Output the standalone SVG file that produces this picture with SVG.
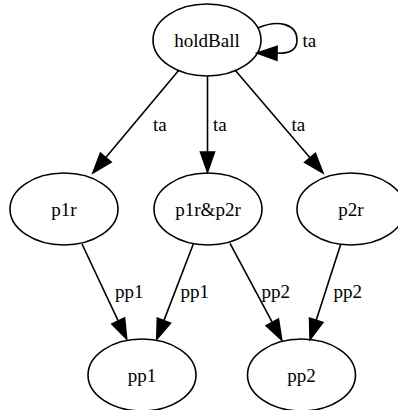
<svg xmlns="http://www.w3.org/2000/svg" width="398" height="410" viewBox="0 0 398 410">
<defs>
<style>
.node ellipse{fill:none;stroke:#000;stroke-width:1.6}
#edges path{fill:none;stroke:#000;stroke-width:1.6}
</style>
<marker id="ah" viewBox="0 0 20 14" refX="0" refY="7" markerWidth="20" markerHeight="14" markerUnits="userSpaceOnUse" orient="auto" overflow="visible">
<path d="M0,0 L20,7 L0,14 Z" fill="#000" stroke="#000" stroke-width="1.6"/>
</marker>
</defs>
<rect width="398" height="410" fill="#fff"/>
<g id="edges">
<path id="e_loop" d="M258,28 C278,19 297,24 297,40 C297,50 290,53.5 277,53.3" marker-end="url(#ah)"/>
<path id="e_hb_p1r" d="M179,70 L105.8,157.6" marker-end="url(#ah)"/>
<path id="e_hb_both" d="M207.5,76 L207.5,152" marker-end="url(#ah)"/>
<path id="e_hb_p2r" d="M235,70 L310,157.8" marker-end="url(#ah)"/>
<path id="e_p1r_pp1" d="M82,244 L118.2,320.9" marker-end="url(#ah)"/>
<path id="e_both_pp1" d="M193.5,243.5 L163.9,320.6" marker-end="url(#ah)"/>
<path id="e_both_pp2" d="M230,243.3 L272.3,322.4" marker-end="url(#ah)"/>
<path id="e_p2r_pp2" d="M340.5,245 L316.2,320.3" marker-end="url(#ah)"/>
<g id="edge_labels" font-family="'Liberation Serif', serif" font-size="19" fill="#000">
<text x="302.5" y="46.5">ta</text>
<text x="153" y="131">ta</text>
<text x="213" y="131">ta</text>
<text x="291.5" y="131">ta</text>
<text x="115" y="298">pp1</text>
<text x="180.5" y="298">pp1</text>
<text x="261.5" y="298">pp2</text>
<text x="333.5" y="298">pp2</text>
</g>
</g>
<g id="nodes" font-family="'Liberation Serif', serif" font-size="19" text-anchor="middle" fill="#000">
<g class="node" id="holdBall"><ellipse cx="207" cy="40" rx="54" ry="36"/><text x="207" y="46.5">holdBall</text></g>
<g class="node" id="p1r"><ellipse cx="64" cy="209" rx="54" ry="36"/><text x="64" y="215.5">p1r</text></g>
<g class="node" id="p1r_p2r"><ellipse cx="208" cy="209" rx="54" ry="36"/><text x="208" y="215.5">p1r&amp;p2r</text></g>
<g class="node" id="p2r"><ellipse cx="351" cy="209" rx="54" ry="36"/><text x="351" y="215.5">p2r</text></g>
<g class="node" id="pp1"><ellipse cx="142" cy="375" rx="54" ry="36"/><text x="142" y="381.5">pp1</text></g>
<g class="node" id="pp2"><ellipse cx="301.5" cy="375" rx="54" ry="36"/><text x="301.5" y="381.5">pp2</text></g>
</g>
</svg>
